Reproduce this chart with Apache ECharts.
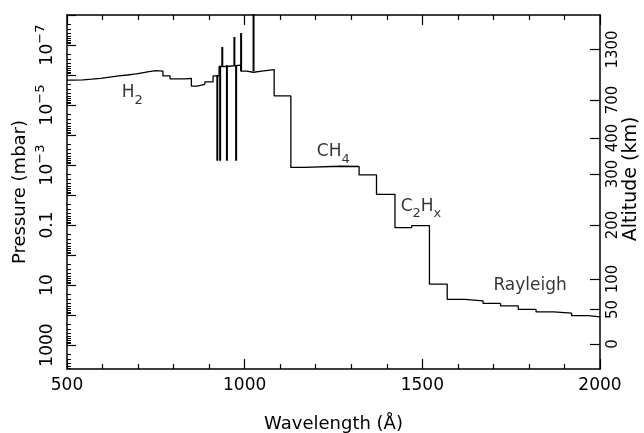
<!DOCTYPE html>
<html><head><meta charset="utf-8">
<script src="https://cdn.jsdelivr.net/npm/echarts@6/dist/echarts.min.js"></script>
<style>html,body{margin:0;padding:0;background:#fff}#c{width:644px;height:433px}</style>
</head><body><div id="c"></div>
<script>
// Step profile: wavelength where each step starts (Å) and pressure level (mbar)
const binStart = [500,520,545,570,595,620,645,670,695,715,735,750,770,790,833,850,866,888,911,928,950,989,1005,1025,1048,1083,1130,1168,1268,1322,1371,1423,1470,1520,1570,1620,1671,1720,1770,1820,1870,1920,1967,2000];
const binPressure = [1.48e-6,1.45e-6,1.38e-6,1.29e-6,1.17e-6,1.07e-6,1.0e-6,9.1e-7,8.3e-7,7.6e-7,7.1e-7,7.4e-7,1.07e-6,1.35e-6,1.29e-6,2.34e-6,2.04e-6,1.7e-6,1.07e-6,5.2e-7,4.7e-7,7.4e-7,8.1e-7,7.4e-7,6.6e-7,5.0e-6,1.2e-3,1.1e-3,1.12e-3,2.14e-3,9.5e-3,0.123,0.105,9.3,30,34,41,50,65,79,87,105,115,115];
// Emission/absorption line spikes
const spikeLambda = [923,931,937,950,971,976,990,1025];
const spikeTop    = [1.0e-6,5.2e-7,1.17e-7,4.7e-7,5.4e-8,4.7e-7,4.0e-8,1e-9];
const spikeBottom = [7.2e-4,7.2e-4,5.2e-7,7.2e-4,4.7e-7,7.2e-4,7.4e-7,7.4e-7];
// Axis ticks
const xLabels = [500,1000,1500,2000];
const pressureLabels = [1e-7,1e-5,1e-3,0.1,10,1000];
const decadeTicks = [1e-8,1e-7,1e-6,1e-5,1e-4,1e-3,1e-2,1e-1,1,10,100,1000];
const altitudeLabels = [0,50,100,200,300,400,700,1300];
const altitudePressure = [930,65,6.3,0.1,2.0e-3,1.26e-4,6.8e-6,1.41e-7];
// Annotations
const annotText = ['H2','CH4','C2Hx','Rayleigh'];

const minorTicks = [];
decadeTicks.forEach(d => { for (let k = 2; k <= 9; k++) minorTicks.push(+(d*k).toPrecision(3)); });

const FONT = 'DejaVu Sans';
const YMIN = 1e-8, YMAX = 6310;
const richNum = {
  n: {fontSize: 17, lineHeight: 28, fontFamily: FONT, color: '#000'},
  s: {fontSize: 13, lineHeight: 14, verticalAlign: 'top', fontFamily: FONT, color: '#000'},
  b: {fontSize: 13, lineHeight: 10, verticalAlign: 'bottom', fontFamily: FONT, color: '#000'}
};
function pressureFmt(v) {
  const e = Math.round(Math.log10(v));
  if (e <= -3) return '{n|10}{s|\u2212' + (-e) + '}';
  return '{n|' + (e < 0 ? v.toFixed(-e) : String(Math.round(v))) + '}';
}
function altFmt(v) {
  let best = 0, bd = Infinity;
  altitudePressure.forEach((p, i) => { const d = Math.abs(Math.log10(p) - Math.log10(v)); if (d < bd) { bd = d; best = i; } });
  return String(altitudeLabels[best]);
}
const annotFormatted = ['{n|H}{b|2}', '{n|CH}{b|4}', '{n|C}{b|2}{n|H}{b|x}', '{n|Rayleigh}'];
const annotPos = [[654, 4e-6], [1203, 3.7e-4], [1439, 0.024], [1700, 10.4]];

const axisLineStyle = {color: '#000', width: 1.5};
const yBase = {type: 'log', logBase: 10, min: YMIN, max: YMAX, inverse: true, splitLine: {show: false}};

const chart = echarts.init(document.getElementById('c'), null, {renderer: 'canvas'});
chart.setOption({
  animation: false,
  backgroundColor: '#fff',
  grid: {left: 67, right: 44, top: 15, bottom: 64, containLabel: false, outerBoundsMode: 'none'},
  xAxis: [
    {type: 'value', min: 500, max: 2000, interval: 500, position: 'bottom',
     name: 'Wavelength (\u00c5)', nameLocation: 'middle', nameGap: 46, nameMoveOverlap: false,
     nameTextStyle: {fontSize: 18, fontFamily: FONT, color: '#000'},
     axisLine: {show: true, onZero: false, lineStyle: axisLineStyle},
     axisTick: {show: true, inside: true, length: 10, lineStyle: {color: '#000', width: 1.2}},
     minorTick: {show: true, splitNumber: 5, length: 5, lineStyle: {color: '#000', width: 1.2}},
     axisLabel: {customValues: xLabels, margin: 8, fontSize: 17, fontFamily: FONT, color: '#000',
                 formatter: v => String(v)},
     splitLine: {show: false}, minorSplitLine: {show: false}},
    {type: 'value', min: 500, max: 2000, interval: 500, position: 'top',
     axisLine: {show: true, onZero: false, lineStyle: axisLineStyle},
     axisTick: {show: true, inside: true, length: 10, lineStyle: {color: '#000', width: 1.2}},
     minorTick: {show: true, splitNumber: 5, length: 5, lineStyle: {color: '#000', width: 1.2}},
     axisLabel: {show: false}, splitLine: {show: false}}
  ],
  yAxis: [
    Object.assign({}, yBase, {position: 'left',
     name: 'Pressure (mbar)', nameLocation: 'middle', nameGap: 38, nameMoveOverlap: false,
     nameTextStyle: {fontSize: 18, fontFamily: FONT, color: '#000'},
     axisLine: {show: true, lineStyle: axisLineStyle},
     axisTick: {show: true, inside: true, length: 9, customValues: decadeTicks, lineStyle: {color: '#000', width: 1.2}},
     axisLabel: {show: true, customValues: pressureLabels, rotate: 90, margin: 5, verticalAlign: 'bottom', align: 'center',
                 formatter: pressureFmt, rich: richNum}}),
    Object.assign({}, yBase, {position: 'left',
     axisLine: {show: false},
     axisTick: {show: true, inside: true, length: 4, customValues: minorTicks, lineStyle: {color: '#000', width: 1}},
     axisLabel: {show: false}}),
    Object.assign({}, yBase, {position: 'right',
     name: 'Altitude (km)', nameLocation: 'middle', nameGap: 22, nameMoveOverlap: false,
     nameTextStyle: {fontSize: 19, fontFamily: FONT, color: '#000', padding: [0, 0, 0, 26]},
     axisLine: {show: true, lineStyle: axisLineStyle},
     axisTick: {show: true, inside: true, length: 10, customValues: altitudePressure, lineStyle: {color: '#000', width: 1.2}},
     axisLabel: {show: true, customValues: altitudePressure, rotate: 90, margin: 6, verticalAlign: 'top', align: 'center',
                 formatter: altFmt, fontSize: 15, fontFamily: FONT, color: '#000'}})
  ],
  series: [
    {type: 'line', step: 'end', symbol: 'none', silent: true,
     data: binStart.map((x, i) => [x, binPressure[i]]),
     lineStyle: {color: '#000', width: 1.3}}
  ].concat(spikeLambda.map((x, i) => ({
     type: 'line', symbol: 'none', silent: true,
     data: [[x, spikeTop[i]], [x, spikeBottom[i]]],
     lineStyle: {color: '#000', width: 2}
  }))).concat([
    {type: 'scatter', symbolSize: 0, silent: true,
     data: annotPos.map((p, i) => ({value: p, name: annotText[i]})),
     label: {show: true, position: 'right', distance: 0,
       formatter: (p) => annotFormatted[p.dataIndex], rich: richNum}}
  ])
});
</script></body></html>
